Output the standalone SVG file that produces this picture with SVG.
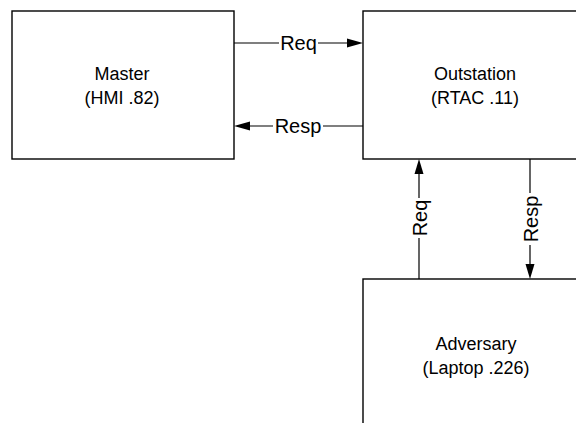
<svg xmlns="http://www.w3.org/2000/svg" width="576" height="423" viewBox="0 0 576 423">
<style>
.box{fill:#fff;stroke:#000;stroke-width:1.4}
.ln{stroke:#000;stroke-width:1.2;fill:none}
.hd{fill:#000}
.nt{font-family:"Liberation Sans",Arial,sans-serif;font-size:18px;fill:#000;text-anchor:middle}
.lb{font-family:"Liberation Sans",Arial,sans-serif;font-size:20px;fill:#000;text-anchor:middle}
</style>
<rect width="576" height="423" fill="#fff"/>
<g id="master">
<rect class="box" x="12" y="11" width="222" height="148"/>
<text class="nt" x="122" y="80">Master</text>
<text class="nt" x="122" y="104">(HMI .82)</text>
</g>
<g id="outstation">
<rect class="box" x="363" y="11" width="240" height="148"/>
<text class="nt" x="475" y="80">Outstation</text>
<text class="nt" x="475" y="104">(RTAC .11)</text>
</g>
<g id="adversary">
<rect class="box" x="363" y="279" width="240" height="170"/>
<text class="nt" x="476" y="350">Adversary</text>
<text class="nt" x="476" y="374">(Laptop .226)</text>
</g>
<g id="connectors">
<path class="ln" d="M234 43H279M318 43H348"/>
<polygon class="hd" points="363,43 347,38.5 347,47.5"/>
<text class="lb" x="298.5" y="50">Req</text>
<path class="ln" d="M249 126H273M323 126H363"/>
<polygon class="hd" points="234,126 250,121.5 250,130.5"/>
<text class="lb" x="298" y="133">Resp</text>
<path class="ln" d="M419 173V198M419 238V279"/>
<polygon class="hd" points="419,159 414.5,174 423.5,174"/>
<text class="lb" x="419" y="225.5" transform="rotate(-90 419 218)">Req</text>
<path class="ln" d="M530 159V193M530 245V265"/>
<polygon class="hd" points="530,279 525.5,264 534.5,264"/>
<text class="lb" x="530" y="226.5" transform="rotate(-90 530 219)">Resp</text>
</g>
</svg>
